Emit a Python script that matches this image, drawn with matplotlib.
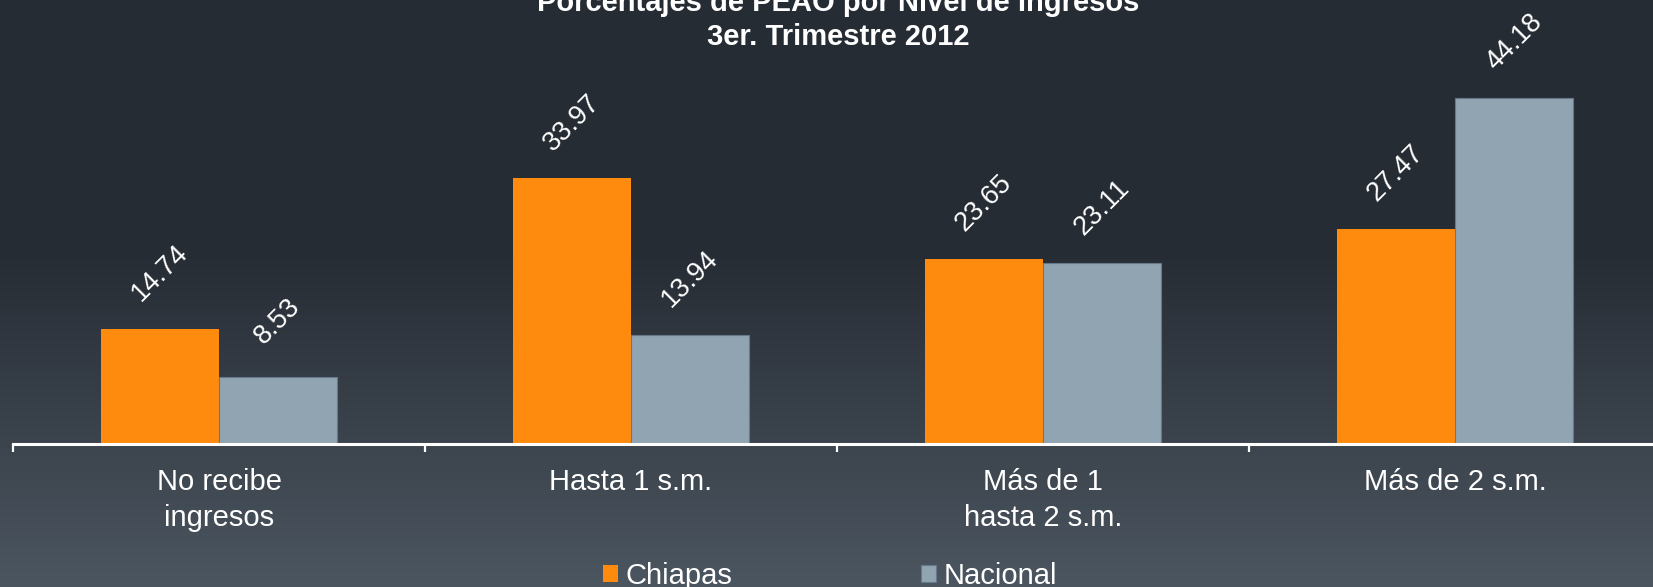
import numpy as np
import matplotlib
matplotlib.use("Agg")
import matplotlib.pyplot as plt
from matplotlib.colors import to_rgb

categories = ["No recibe\ningresos", "Hasta 1 s.m.", "Más de 1\nhasta 2 s.m.", "Más de 2 s.m."]
chiapas = [14.74, 33.97, 23.65, 27.47]
nacional = [8.53, 13.94, 23.11, 44.18]
series_names = ["Chiapas", "Nacional"]
title_lines = ["Porcentajes de PEAO por Nivel de Ingresos", "3er. Trimestre 2012"]

plt.rcParams['font.family'] = ['Liberation Sans', 'DejaVu Sans']

W, H, DPI = 1653, 587, 100
fig = plt.figure(figsize=(W / DPI, H / DPI), dpi=DPI)

# background gradient
bg = fig.add_axes([0, 0, 1, 1], zorder=-10)
bg.set_axis_off()
top_c = np.array(to_rgb("#262c34"))
bot_c = np.array(to_rgb("#4c5660"))
rows = np.arange(H)
t = np.clip((rows - 250) / (H - 250), 0, 1)[:, None]
grad = top_c * (1 - t) + bot_c * t
img = np.repeat(grad[:, None, :], 4, axis=1)
bg.imshow(img, aspect='auto', extent=[0, 1, 0, 1], origin='upper')
bg.set_xlim(0, 1)
bg.set_ylim(0, 1)

# main axes
px_per_unit = 7.83
ymax = 50
ax_left = 13 / W
ax_bottom = (H - 444) / H
ax_width = 1648 / W
ax_height = ymax * px_per_unit / H
ax = fig.add_axes([ax_left, ax_bottom, ax_width, ax_height])
ax.patch.set_alpha(0)

x = np.arange(len(categories))
w = 118 / 412
orange = "#fe8b0e"
gray = "#91a4b2"
b1 = ax.bar(x - w / 2, chiapas, width=w, color=orange, label=series_names[0], zorder=2)
b2 = ax.bar(x + w / 2, nacional, width=w, color=gray, edgecolor="#66788a", linewidth=0.8,
            label=series_names[1], zorder=2)

for bars, vals in ((b1, chiapas), (b2, nacional)):
    for rect, v in zip(bars, vals):
        ax.annotate(f"{v:.2f}", (rect.get_x() + rect.get_width() / 2, v),
                    xytext=(0, 40), textcoords="offset points",
                    ha="center", va="center", rotation=45,
                    color="white", fontsize=19.5)

ax.set_xlim(-0.5, len(categories) - 0.5)
ax.set_ylim(0, ymax)
for s in ["top", "right", "left"]:
    ax.spines[s].set_visible(False)
ax.spines["bottom"].set_color("white")
ax.spines["bottom"].set_linewidth(2.2)
ax.set_yticks([])
ax.set_xticks(np.arange(-0.5, len(categories), 1.0))
ax.set_xticklabels([])
ax.tick_params(axis="x", which="major", direction="out", length=6, width=1.6, color="white")
ax.set_xticks(x, minor=True)
ax.set_xticklabels(categories, minor=True, color="white", fontsize=21)
for lbl in ax.get_xticklabels(minor=True):
    lbl.set_linespacing(1.38)
ax.tick_params(axis="x", which="minor", length=0, pad=17)

# title
fig.text(838 / W, 1 - 11 / H, title_lines[0], ha="center", va="baseline",
         color="white", fontsize=21, fontweight="bold")
fig.text(838 / W, 1 - 45 / H, title_lines[1], ha="center", va="baseline",
         color="white", fontsize=21, fontweight="bold")

# legend
leg = fig.legend(handles=[b1, b2], labels=series_names, loc="center",
                 bbox_to_anchor=(830 / W, 1 - 576 / H), ncol=2, frameon=False,
                 fontsize=21, handlelength=0.51, handleheight=0.51, handletextpad=0.24,
                 columnspacing=6.5, labelcolor="white", borderaxespad=0, borderpad=0)

fig.savefig("out.png", dpi=DPI)
